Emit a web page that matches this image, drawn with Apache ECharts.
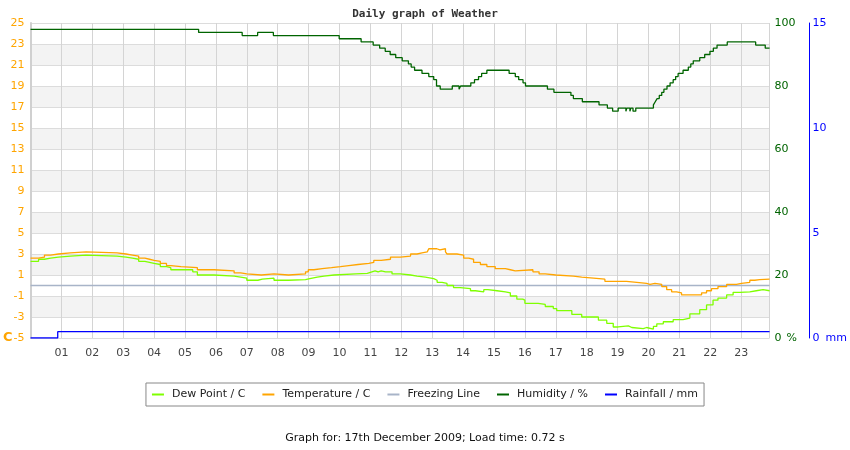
<!DOCTYPE html>
<html>
<head>
<meta charset="utf-8">
<script src="https://cdn.jsdelivr.net/npm/echarts@6/dist/echarts.min.js"></script>
<style>
  html, body { margin: 0; padding: 0; background: #fff; }
  #chart { width: 850px; height: 450px; }
</style>
</head>
<body>
<div id="chart"></div>
<script>
// Hours of day where each reading changes (step lines), and the readings
const dewHours = [0, 0.26, 0.45, 0.65, 0.9, 1.29, 1.8, 2.8, 3.09, 3.3, 3.5, 3.7, 3.85, 4.0, 4.2, 4.4, 4.54, 5.25, 5.4, 5.94,
    6.59, 6.8, 7.0, 7.36, 7.5, 7.88, 8.35, 8.9, 9.04, 9.28, 9.5, 9.82, 10.52, 10.9, 11.0, 11.15, 11.25, 11.35, 11.49, 11.7,
    11.97, 12.3, 12.51, 12.78, 13.05, 13.16, 13.32, 13.48, 13.69, 13.91, 14.24, 14.4, 14.67, 14.8, 15.1, 15.37, 15.53, 15.74, 15.93, 16.0,
    16.43, 16.66, 16.92, 17.03, 17.52, 17.84, 18.38, 18.65, 18.86, 19.02, 19.35, 19.46, 19.83, 19.94, 20.16, 20.27, 20.48, 20.8, 21.12, 21.34,
    21.66, 21.88, 22.09, 22.25, 22.53, 22.74, 22.96, 23.28, 23.49, 23.71, 23.92];
const dewValues = [2.3, 2.5, 2.6, 2.7, 2.8, 2.9, 2.8, 2.7, 2.6, 2.5, 2.3, 2.2, 2.1, 2.0, 1.8, 1.7, 1.5, 1.3, 1.0, 0.9,
    0.8, 0.7, 0.5, 0.6, 0.7, 0.5, 0.55, 0.65, 0.8, 0.9, 1.0, 1.1, 1.15, 1.25, 1.4, 1.3, 1.4, 1.3, 1.3, 1.1,
    1.0, 0.9, 0.8, 0.65, 0.5, 0.3, 0.2, 0.0, -0.2, -0.3, -0.5, -0.6, -0.4, -0.5, -0.6, -0.7, -1.0, -1.3, -1.4, -1.7,
    -1.8, -2.0, -2.2, -2.4, -2.75, -3.0, -3.3, -3.6, -3.95, -3.85, -4.0, -4.1, -4.0, -4.15, -3.9, -3.65, -3.45, -3.25, -3.1, -2.7,
    -2.3, -1.85, -1.4, -1.2, -0.9, -0.65, -0.6, -0.5, -0.4, -0.5, -0.55];

const tempHours = [0, 0.26, 0.45, 0.65, 0.9, 1.29, 1.8, 2.8, 3.09, 3.3, 3.5, 3.7, 3.85, 4.0, 4.2, 4.4, 4.54, 4.87, 5.4, 5.94,
    6.59, 6.8, 7.0, 7.47, 7.88, 8.35, 8.9, 8.99, 9.17, 9.44, 9.74, 10.03, 10.3, 10.6, 10.95, 11.11, 11.35, 11.65, 11.97, 12.3,
    12.51, 12.67, 12.84, 12.89, 13.15, 13.25, 13.43, 13.48, 13.8, 14.02, 14.18, 14.34, 14.56, 14.77, 15.04, 15.37, 15.53, 15.69, 16.26, 16.46,
    16.66, 17.0, 17.57, 17.84, 18.22, 18.59, 19.29, 19.62, 19.94, 20.05, 20.21, 20.43, 20.59, 20.75, 20.91, 21.07, 21.72, 21.88, 22.04, 22.25,
    22.53, 22.85, 23.01, 23.28, 23.44, 23.6, 23.92];
const tempValues = [2.6, 2.7, 2.9, 3.0, 3.1, 3.2, 3.1, 3.0, 2.9, 2.8, 2.6, 2.5, 2.4, 2.3, 2.1, 1.9, 1.8, 1.7, 1.5, 1.4,
    1.2, 1.1, 1.0, 1.1, 1.0, 1.1, 1.3, 1.5, 1.6, 1.7, 1.8, 1.9, 2.0, 2.1, 2.2, 2.4, 2.5, 2.7, 2.8, 3.0,
    3.1, 3.2, 3.3, 3.5, 3.4, 3.5, 3.2, 3.0, 2.9, 2.6, 2.5, 2.2, 2.0, 1.8, 1.6, 1.5, 1.4, 1.5, 1.3, 1.1,
    1.0, 0.9, 0.8, 0.7, 0.6, 0.4, 0.3, 0.2, 0.1, 0.2, 0.1, -0.1, -0.4, -0.6, -0.7, -0.9, -0.7, -0.5, -0.3, -0.1,
    0.1, 0.2, 0.3, 0.5, 0.55, 0.6, 0.6];

const humHours = [0, 5.44, 6.85, 7.35, 7.86, 9.99, 10.7, 11.09, 11.3, 11.48, 11.64, 11.82, 12.03, 12.23, 12.32, 12.43, 12.67, 12.89, 13.05, 13.14,
    13.26, 13.65, 13.87, 13.92, 14.25, 14.37, 14.5, 14.6, 14.77, 15.49, 15.69, 15.8, 15.94, 16.02, 16.73, 16.94, 17.49, 17.57, 17.86, 18.4,
    18.67, 18.84, 19.02, 19.27, 19.3, 19.4, 19.43, 19.5, 19.59, 20.16, 20.22, 20.28, 20.35, 20.43, 20.5, 20.6, 20.7, 20.8, 20.88, 20.96,
    21.12, 21.29, 21.37, 21.45, 21.66, 21.82, 21.99, 22.1, 22.22, 22.55, 23.47, 23.78, 23.92];
const humValues = [98, 97, 96, 97, 96, 95, 94, 93, 92, 91, 90, 89, 88, 87, 86, 85, 84, 83, 82, 80,
    79, 80, 79, 80, 81, 82, 83, 84, 85, 84, 83, 82, 81, 80, 79, 78, 77, 76, 75, 74,
    73, 72, 73, 72, 73, 72, 73, 72, 73, 74, 75, 76, 77, 78, 79, 80, 81, 82, 83, 84,
    85, 86, 87, 88, 89, 90, 91, 92, 93, 94, 93, 92, 92];

const rainHours = [0, 0.88, 23.92];
const rainValues = [0, 0.3, 0.3];

const freezeHours = [0, 23.92];
const freezeValues = [0, 0];

function pairs(hours, values) {
    return hours.map(function (h, i) { return [h, values[i]]; });
}

var chart = echarts.init(document.getElementById('chart'));
var font = 'DejaVu Sans';

var option = {
    animation: false,
    backgroundColor: '#ffffff',
    title: [{
        text: 'Daily graph of Weather',
        left: 'center',
        top: 4,
        textStyle: { fontFamily: 'DejaVu Sans Mono', fontSize: 11, fontWeight: 'bold', color: '#333' }
    }, {
        text: 'Graph for: 17th December 2009; Load time: 0.72 s',
        left: 'center',
        top: 428,
        textStyle: { fontFamily: font, fontSize: 11, fontWeight: 'normal', color: '#111' }
    }],
    legend: {
        top: 383,
        left: 'center',
        padding: [6, 6],
        borderColor: '#888',
        borderWidth: 1,
        icon: 'rect',
        itemWidth: 12,
        itemHeight: 2,
        itemGap: 17,
        textStyle: { fontFamily: font, fontSize: 11, color: '#222', padding: [0, 0, 0, 3] },
        data: ['Dew Point / C', 'Temperature / C', 'Freezing Line', 'Humidity / %', 'Rainfall / mm']
    },
    grid: { left: 30, right: 80, top: 23, bottom: 112 },
    xAxis: {
        type: 'value',
        min: 0,
        max: 23.92,
        interval: 1,
        axisLine: { show: false },
        axisTick: { show: false },
        axisLabel: {
            margin: 10,
            fontFamily: font, fontSize: 11, color: '#444',
            formatter: function (v) {
                if (v <= 0 || v % 1 !== 0) return '';
                return (v < 10 ? '0' : '') + v;
            }
        },
        splitLine: { show: true, lineStyle: { color: '#d4d4d4', width: 1 } }
    },
    yAxis: [{
        type: 'value',
        min: -5,
        max: 25,
        interval: 2,
        position: 'left',
        name: 'C',
        nameLocation: 'start',
        nameGap: 0,
        nameMoveOverlap: false,
        nameTextStyle: { fontFamily: font, fontSize: 13, fontWeight: 'bold', color: '#ffa500',
            align: 'right', verticalAlign: 'middle', padding: [0, 18, 10, 0] },
        axisLine: { show: true, lineStyle: { color: '#d0d0d0', width: 2 } },
        axisTick: { show: false },
        axisLabel: { margin: 6, fontFamily: font, fontSize: 11, color: '#ffa500' },
        splitLine: { show: true, lineStyle: { color: '#dcdcdc', width: 1 } },
        splitArea: { show: true, areaStyle: { color: ['#ffffff', '#f3f3f3'] } }
    }, {
        type: 'value',
        min: 0,
        max: 100,
        interval: 20,
        position: 'right',
        name: '%',
        nameLocation: 'start',
        nameGap: 0,
        nameMoveOverlap: false,
        nameTextStyle: { fontFamily: font, fontSize: 11, color: '#006400',
            align: 'left', verticalAlign: 'middle', padding: [0, 0, 8, 17] },
        axisLine: { show: false },
        axisTick: { show: false },
        axisLabel: { margin: 5, fontFamily: font, fontSize: 11, color: '#006400' },
        splitLine: { show: false }
    }, {
        type: 'value',
        min: 0,
        max: 15,
        interval: 5,
        position: 'right',
        offset: 40,
        name: 'mm',
        nameLocation: 'start',
        nameGap: 0,
        nameMoveOverlap: false,
        nameTextStyle: { fontFamily: font, fontSize: 11, color: '#0000ff',
            align: 'left', verticalAlign: 'middle', padding: [0, 0, 10, 16] },
        axisLine: { show: true, lineStyle: { color: '#0000ff', width: 1 } },
        axisTick: { show: false },
        axisLabel: { margin: 3, fontFamily: font, fontSize: 11, color: '#0000ff' },
        splitLine: { show: false }
    }],
    series: [{
        name: 'Dew Point / C',
        type: 'line',
        step: 'end',
        showSymbol: false,
        yAxisIndex: 0,
        color: '#7fff00',
        lineStyle: { width: 1.3 },
        data: pairs(dewHours, dewValues),
        z: 3
    }, {
        name: 'Temperature / C',
        type: 'line',
        step: 'end',
        showSymbol: false,
        yAxisIndex: 0,
        color: '#ffa500',
        lineStyle: { width: 1.3 },
        data: pairs(tempHours, tempValues),
        z: 3
    }, {
        name: 'Freezing Line',
        type: 'line',
        showSymbol: false,
        yAxisIndex: 0,
        color: '#a8b4c8',
        lineStyle: { width: 1.3 },
        data: pairs(freezeHours, freezeValues),
        z: 2
    }, {
        name: 'Humidity / %',
        type: 'line',
        step: 'end',
        showSymbol: false,
        yAxisIndex: 1,
        color: '#006400',
        lineStyle: { width: 1.3 },
        data: pairs(humHours, humValues),
        z: 3
    }, {
        name: 'Rainfall / mm',
        type: 'line',
        step: 'end',
        showSymbol: false,
        yAxisIndex: 2,
        color: '#0000ff',
        lineStyle: { width: 1.3 },
        data: pairs(rainHours, rainValues),
        z: 3
    }]
};

chart.setOption(option);
</script>
</body>
</html>
